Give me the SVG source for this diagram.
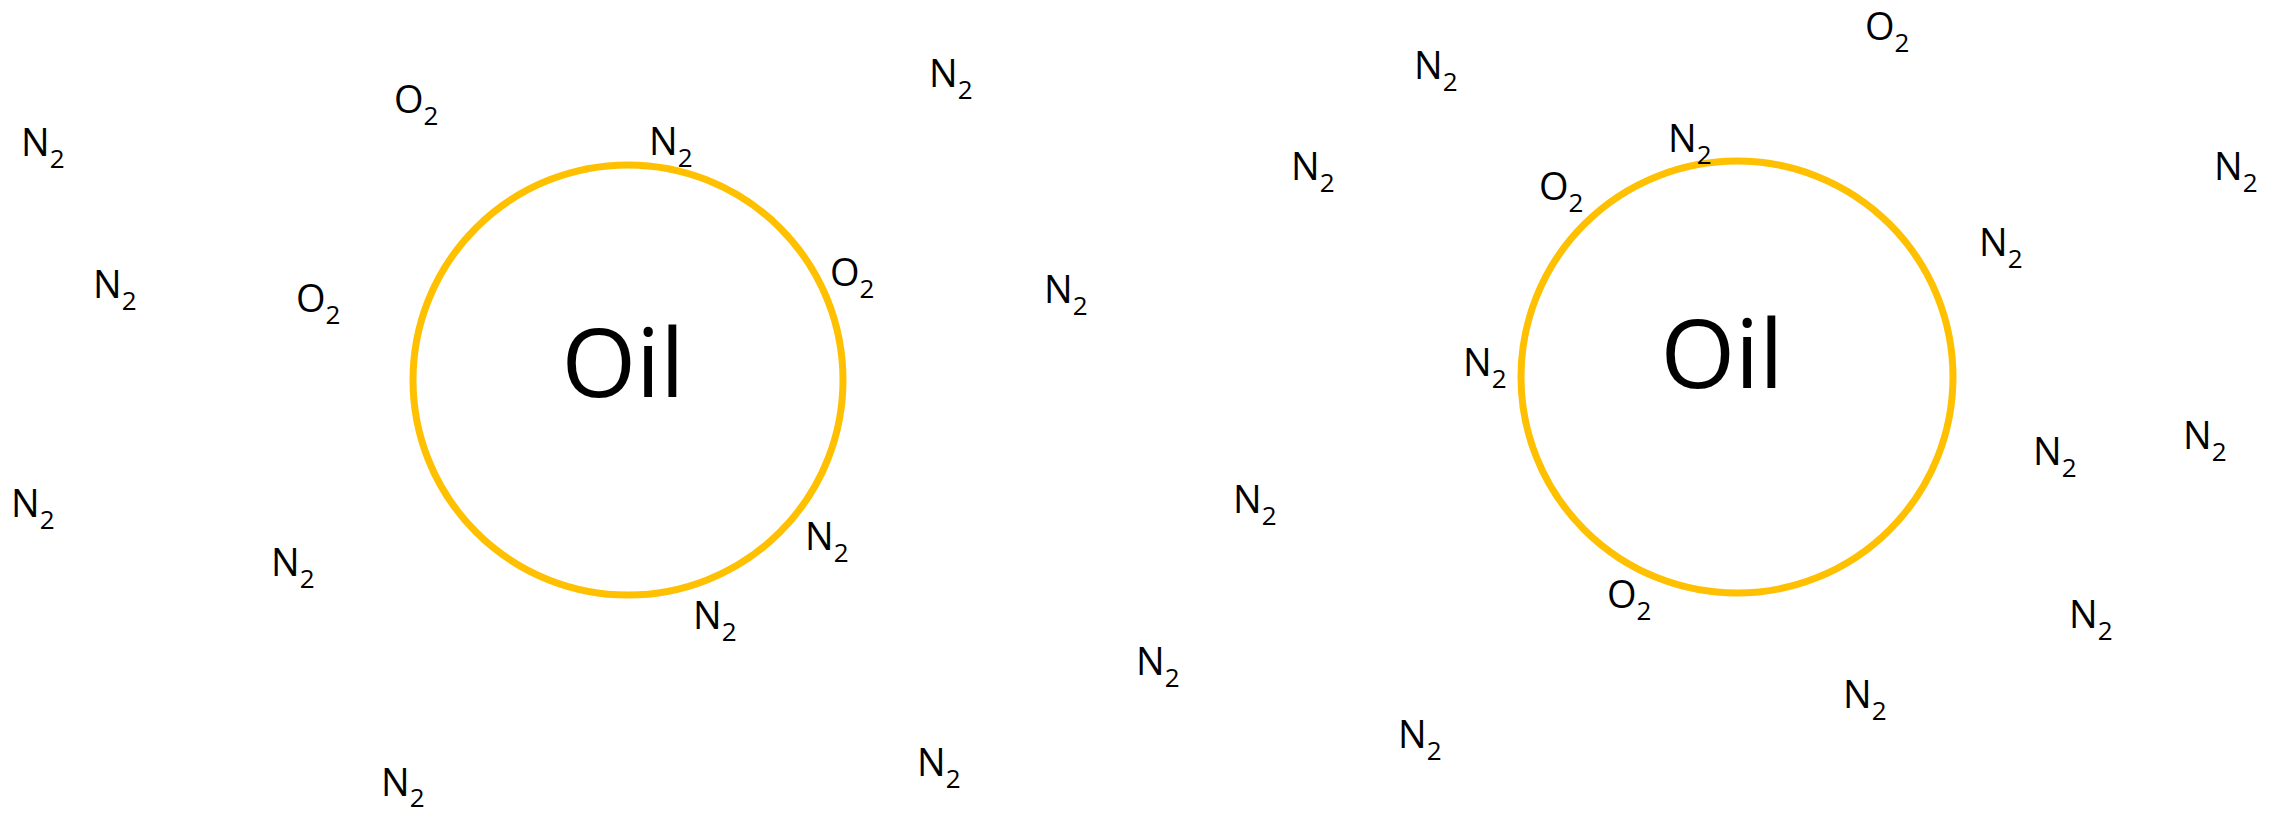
<svg xmlns="http://www.w3.org/2000/svg" width="2277" height="814" viewBox="0 0 2277 814">
<style>
.c{fill:none;stroke:#FFC000;stroke-width:7}
.m{font-family:"Open Sans","Liberation Sans",sans-serif;font-size:38px;fill:#000}
.s{font-size:26px}
.oil{font-family:"Open Sans","Liberation Sans",sans-serif;font-size:96px;fill:#000;text-anchor:middle}
</style>
<rect width="2277" height="814" fill="#fff"/>
<g id="drop-left">
<circle class="c" cx="628" cy="380" r="215"/>
<text class="oil" x="623" y="397">Oil</text>
</g>
<g id="drop-right">
<circle class="c" cx="1737" cy="377" r="216"/>
<text class="oil" x="1722" y="388">Oil</text>
</g>
<g id="molecules-left">
<text class="m" x="21" y="156">N<tspan class="s" dy="12">2</tspan></text>
<text class="m" x="394" y="113">O<tspan class="s" dy="12">2</tspan></text>
<text class="m" x="649" y="155">N<tspan class="s" dy="12">2</tspan></text>
<text class="m" x="929" y="87">N<tspan class="s" dy="12">2</tspan></text>
<text class="m" x="93" y="298">N<tspan class="s" dy="12">2</tspan></text>
<text class="m" x="296" y="312">O<tspan class="s" dy="12">2</tspan></text>
<text class="m" x="830" y="286">O<tspan class="s" dy="12">2</tspan></text>
<text class="m" x="1044" y="303">N<tspan class="s" dy="12">2</tspan></text>
<text class="m" x="11" y="517">N<tspan class="s" dy="12">2</tspan></text>
<text class="m" x="271" y="576">N<tspan class="s" dy="12">2</tspan></text>
<text class="m" x="805" y="550">N<tspan class="s" dy="12">2</tspan></text>
<text class="m" x="693" y="629">N<tspan class="s" dy="12">2</tspan></text>
<text class="m" x="381" y="796">N<tspan class="s" dy="11">2</tspan></text>
<text class="m" x="917" y="776">N<tspan class="s" dy="12">2</tspan></text>
<text class="m" x="1136" y="675">N<tspan class="s" dy="12">2</tspan></text>
</g>
<g id="molecules-right">
<text class="m" x="1414" y="79">N<tspan class="s" dy="12">2</tspan></text>
<text class="m" x="1865" y="40">O<tspan class="s" dy="12">2</tspan></text>
<text class="m" x="1291" y="180">N<tspan class="s" dy="12">2</tspan></text>
<text class="m" x="1668" y="152">N<tspan class="s" dy="12">2</tspan></text>
<text class="m" x="1539" y="200">O<tspan class="s" dy="12">2</tspan></text>
<text class="m" x="2214" y="180">N<tspan class="s" dy="12">2</tspan></text>
<text class="m" x="1979" y="256">N<tspan class="s" dy="12">2</tspan></text>
<text class="m" x="1463" y="376">N<tspan class="s" dy="12">2</tspan></text>
<text class="m" x="2033" y="465">N<tspan class="s" dy="12">2</tspan></text>
<text class="m" x="2183" y="449">N<tspan class="s" dy="12">2</tspan></text>
<text class="m" x="1233" y="513">N<tspan class="s" dy="12">2</tspan></text>
<text class="m" x="1607" y="608">O<tspan class="s" dy="12">2</tspan></text>
<text class="m" x="2069" y="628">N<tspan class="s" dy="12">2</tspan></text>
<text class="m" x="1843" y="708">N<tspan class="s" dy="12">2</tspan></text>
<text class="m" x="1398" y="748">N<tspan class="s" dy="12">2</tspan></text>
</g>
<g id="connectors"></g>
</svg>
